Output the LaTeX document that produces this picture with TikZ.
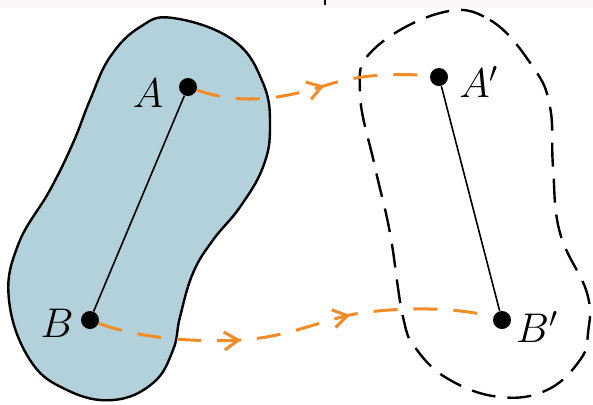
\documentclass[tikz,border=0pt]{standalone}
\usepackage{amsmath}
\usepackage{tikz}
\usetikzlibrary{arrows.meta,decorations.markings,positioning}
\usepackage{xcolor}
\definecolor{blobfill}{RGB}{178,209,218}
\definecolor{pathorange}{RGB}{242,140,40}
\definecolor{topband}{RGB}{252,245,245}
\tikzset{
  pt/.style={circle,fill=black,inner sep=0pt,minimum size=9pt},
  lbl/.style={font=\fontsize{20}{24}\selectfont,inner sep=0pt},
  track/.style={pathorange,line width=1.5pt,dash pattern=on 12pt off 8pt},
  arrowat/.style={postaction={decorate,decoration={markings,
    mark=at position #1 with {\arrow{Straight Barb[length=7pt,width=9pt,line width=1.5pt]}}}}},
}

\begin{document}
\begin{tikzpicture}[x=0.5pt,y=-0.5pt]
\useasboundingbox (0,0) rectangle (593,404);
\fill[topband] (0,0) rectangle (593,8);
\draw[line width=1.2pt] (325,0) -- (325,5);
% corpo nella posizione iniziale
\draw[fill=blobfill,line width=1.2pt] plot[smooth cycle,tension=0.7] coordinates {
  (173,18) (233,40) (263,83) (270,127) (263,167) (240,207) (213,240) (193,273)
  (180,317) (173,350) (153,383) (113,400) (67,390) (30,360) (9,300) (18,245)
  (50,190) (73,143) (90,100) (110,57) (140,27)};
% corpo nella posizione finale (tratteggiato)
\draw[line width=1.2pt,dash pattern=on 12pt off 6pt] plot[smooth cycle,tension=0.7] coordinates {
  (440,13) (490,20) (533,67) (550,107) (553,167) (560,233) (587,293) (588,333)
  (580,360) (547,390) (500,397) (450,380) (417,350) (403,317) (390,233) (375,167)
  (360,93) (373,50)};
% punti e etichette
\node[pt] (A) at (188,87) {};
\node[pt] (B) at (90,320) {};
\node[pt] (A') at (439,77) {};
\node[pt] (B') at (502,320) {};
\node[lbl] (labA) at (148,93) {$A$};
\node[lbl] (labB) at (57,323) {$B$};
\node[lbl] (labA') at (479,82) {$A'$};
\node[lbl] (labB') at (537,327) {$B'$};
\draw[line width=0.8pt] (A) -- (B);
\draw[line width=0.8pt] (A') -- (B');
% traiettorie
\draw[track,arrowat=0.55] (A) .. controls (240,105) and (280,100) .. (330,84)
  .. controls (370,72) and (410,74) .. (A');
\draw[track,arrowat=0.36,arrowat=0.64] (B) .. controls (130,335) and (180,343) .. (240,340)
  .. controls (290,337) and (320,320) .. (360,313)
  .. controls (420,305) and (470,310) .. (B');
\end{tikzpicture}
\end{document}
